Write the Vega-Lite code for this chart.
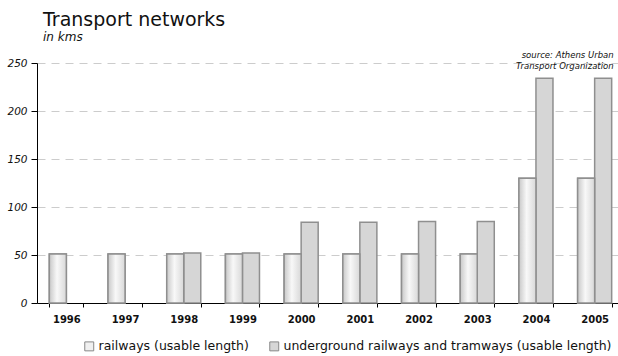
{
  "$schema": "https://vega.github.io/schema/vega-lite/v6.json",
  "width": 587,
  "height": 240,
  "autosize": {"type": "none"},
  "padding": {"left": 37, "top": 63, "right": 0, "bottom": 53},
  "background": "white",
  "title": {
    "text": "Transport networks",
    "subtitle": "in kms",
    "anchor": "start",
    "frame": "group",
    "dx": 6,
    "offset": 8,
    "font": "DejaVu Sans",
    "fontSize": 19,
    "fontWeight": "normal",
    "color": "#111111",
    "subtitleFont": "DejaVu Sans",
    "subtitleFontSize": 12,
    "subtitleFontStyle": "italic",
    "subtitleColor": "#111111",
    "subtitlePadding": 2
  },
  "config": {
    "view": {"stroke": null},
    "font": "DejaVu Sans"
  },
  "data": {
    "values": [
      {"year": "1996", "series": "railways (usable length)", "value": 51},
      {"year": "1997", "series": "railways (usable length)", "value": 51},
      {"year": "1998", "series": "railways (usable length)", "value": 51},
      {"year": "1998", "series": "underground railways and tramways (usable length)", "value": 52},
      {"year": "1999", "series": "railways (usable length)", "value": 51},
      {"year": "1999", "series": "underground railways and tramways (usable length)", "value": 52},
      {"year": "2000", "series": "railways (usable length)", "value": 51},
      {"year": "2000", "series": "underground railways and tramways (usable length)", "value": 84},
      {"year": "2001", "series": "railways (usable length)", "value": 51},
      {"year": "2001", "series": "underground railways and tramways (usable length)", "value": 84},
      {"year": "2002", "series": "railways (usable length)", "value": 51},
      {"year": "2002", "series": "underground railways and tramways (usable length)", "value": 85},
      {"year": "2003", "series": "railways (usable length)", "value": 51},
      {"year": "2003", "series": "underground railways and tramways (usable length)", "value": 85},
      {"year": "2004", "series": "railways (usable length)", "value": 130},
      {"year": "2004", "series": "underground railways and tramways (usable length)", "value": 234},
      {"year": "2005", "series": "railways (usable length)", "value": 130},
      {"year": "2005", "series": "underground railways and tramways (usable length)", "value": 234}
    ]
  },
  "layer": [
    {
      "mark": {"type": "bar", "stroke": "#8f8f8f", "strokeWidth": 1.5},
      "encoding": {
        "x": {
          "field": "year",
          "type": "nominal",
          "scale": {"paddingInner": 0.42, "paddingOuter": 0.21},
          "axis": {
            "title": null,
            "labelAngle": 0,
            "labelFont": "DejaVu Sans",
            "labelFontWeight": "bold",
            "labelFontSize": 10,
            "labelColor": "#111111",
            "labelPadding": 7,
            "tickBand": "extent",
            "tickSize": 4,
            "tickColor": "#000000",
            "domainColor": "#000000",
            "grid": false
          }
        },
        "xOffset": {
          "field": "series",
          "type": "nominal",
          "scale": {"paddingInner": 0, "paddingOuter": 0}
        },
        "y": {
          "field": "value",
          "type": "quantitative",
          "scale": {"domain": [0, 250], "nice": false},
          "axis": {
            "title": null,
            "values": [0, 50, 100, 150, 200, 250],
            "labelFont": "DejaVu Sans",
            "labelFontStyle": "italic",
            "labelFontSize": 10.5,
            "labelColor": "#111111",
            "labelPadding": 4,
            "tickSize": 6,
            "tickColor": "#000000",
            "domainColor": "#000000",
            "grid": true,
            "gridColor": "#cccccc",
            "gridDash": [8, 6],
            "gridWidth": 1
          }
        },
        "color": {
          "field": "series",
          "type": "nominal",
          "scale": {
            "domain": ["railways (usable length)", "underground railways and tramways (usable length)"],
            "range": ["#f0f0f0", "#d6d6d6"]
          },
          "legend": {
            "title": null,
            "orient": "none",
            "legendX": 46,
            "legendY": 277,
            "direction": "horizontal",
            "symbolType": "square",
            "symbolSize": 80,
            "symbolStrokeColor": "#888888",
            "symbolStrokeWidth": 1,
            "symbolOpacity": 1,
            "labelFont": "DejaVu Sans",
            "labelFontSize": 12.5,
            "labelColor": "#111111",
            "labelLimit": 0,
            "labelOffset": 3,
            "columnPadding": 18
          }
        }
      }
    },
    {
      "transform": [{"filter": "datum.series === 'railways (usable length)'"}],
      "mark": {
        "type": "bar",
        "stroke": "#8f8f8f",
        "strokeWidth": 1.5,
        "fill": {
          "gradient": "linear",
          "x1": 0, "y1": 0, "x2": 1, "y2": 0,
          "stops": [
            {"offset": 0, "color": "#c8c8c8"},
            {"offset": 0.45, "color": "#f8f8f8"},
            {"offset": 1, "color": "#d8d8d8"}
          ]
        }
      },
      "encoding": {
        "x": {"field": "year", "type": "nominal"},
        "xOffset": {"field": "series", "type": "nominal"},
        "y": {"field": "value", "type": "quantitative"}
      }
    },
    {
      "data": {"values": [{"line1": "source: Athens Urban", "line2": "Transport Organization"}]},
      "layer": [
        {
          "mark": {
            "type": "text",
            "align": "right",
            "baseline": "alphabetic",
            "font": "DejaVu Sans",
            "fontStyle": "italic",
            "fontSize": 8.5,
            "color": "#111111",
            "dx": 19,
            "dy": -5
          },
          "encoding": {
            "x": {"datum": "2005", "type": "nominal"},
            "y": {"datum": 250, "type": "quantitative"},
            "text": {"field": "line1", "type": "nominal"}
          }
        },
        {
          "mark": {
            "type": "text",
            "align": "right",
            "baseline": "alphabetic",
            "font": "DejaVu Sans",
            "fontStyle": "italic",
            "fontSize": 8.5,
            "color": "#111111",
            "dx": 19,
            "dy": 6
          },
          "encoding": {
            "x": {"datum": "2005", "type": "nominal"},
            "y": {"datum": 250, "type": "quantitative"},
            "text": {"field": "line2", "type": "nominal"}
          }
        }
      ]
    }
  ]
}
